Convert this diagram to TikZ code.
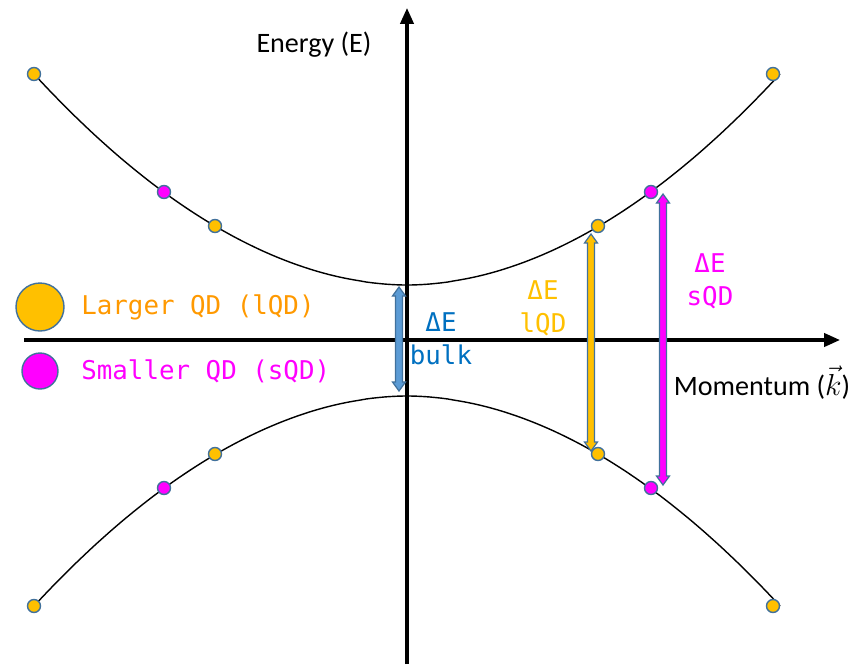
\documentclass[tikz,border=0pt]{standalone}
\usepackage{fontspec}
\setmainfont{Carlito}
\newfontfamily\monof{DejaVu Sans Mono}
\usetikzlibrary{arrows.meta}
\definecolor{qorange}{HTML}{FFC000}
\definecolor{qtext}{HTML}{FF9900}
\definecolor{qmag}{HTML}{FF00FF}
\definecolor{qblue}{HTML}{5B9BD5}
\definecolor{qbluetext}{HTML}{0070C0}
\definecolor{qedge}{HTML}{41719C}
\newcommand{\blockdarrow}[4]{% x, ytop, ybot, color
  \filldraw[blockarrow, fill=#4] (#1-3.5,#2+9) -- (#1-6.5,#2+9) -- (#1,#2) -- (#1+6.5,#2+9) -- (#1+3.5,#2+9)
    -- (#1+3.5,#3-9) -- (#1+6.5,#3-9) -- (#1,#3) -- (#1-6.5,#3-9) -- (#1-3.5,#3-9) -- cycle;}
\begin{document}
\begin{tikzpicture}[x=0.02cm,y=-0.02cm,
  axis/.style={line width=1.8pt,-{Triangle[length=9pt,width=7.5pt]}},
  band/.style={line width=0.8pt,black},
  ldot/.style={circle,draw=qedge,line width=0.8pt,fill=qorange,minimum size=13*0.02cm,inner sep=0pt},
  sdot/.style={circle,draw=qedge,line width=0.8pt,fill=qmag,minimum size=13*0.02cm,inner sep=0pt},
  blockarrow/.style={draw=qedge,line width=0.7pt,line join=miter},
  mono/.style={font=\monof\fontsize{14.7}{19}\selectfont,align=center,inner sep=0pt},
  lbl/.style={font=\fontsize{16}{19}\selectfont,inner sep=0pt}]
\useasboundingbox (0,0) rectangle (853,664);
% axes
\coordinate (ybot) at (407,664);
\coordinate (ytop) at (407,8);
\coordinate (xl) at (24,340);
\coordinate (xr) at (840,340);
\draw[axis] (ybot) -- (ytop);
\draw[axis] (xl) -- (xr);
% bands
\draw[band] plot[domain=-373:373,samples=120] ({407+\x},{285-211*(abs(\x)/373)^1.92});
\draw[band] plot[domain=-373:373,samples=120] ({407+\x},{396+210*(abs(\x)/373)^1.92});
% arrows
\blockdarrow{399}{287}{391}{qblue}
\blockdarrow{591}{234}{451}{qorange}
\blockdarrow{663}{194}{485}{qmag}
% dots upper
\node[ldot] (u1) at (34,74) {};
\node[sdot] (u2) at (164,192) {};
\node[ldot] (u3) at (215,226) {};
\node[ldot] (u4) at (598,226) {};
\node[sdot] (u5) at (651,192) {};
\node[ldot] (u6) at (773,74) {};
% dots lower
\node[ldot] (d1) at (34,606) {};
\node[sdot] (d2) at (164,488) {};
\node[ldot] (d3) at (215,454) {};
\node[ldot] (d4) at (598,454) {};
\node[sdot] (d5) at (651,488) {};
\node[ldot] (d6) at (773,606) {};
% legend
\node[circle,draw=qedge,line width=0.8pt,fill=qorange,minimum size=48*0.02cm,inner sep=0pt] (legl) at (40,307) {};
\node[circle,draw=qedge,line width=0.8pt,fill=qmag,minimum size=36*0.02cm,inner sep=0pt] (legs) at (40,371) {};
\node[mono,text=qtext,anchor=west] (tl) at (81,307) {Larger QD (lQD)};
\node[mono,text=qmag,anchor=west] (ts) at (81,371) {Smaller QD (sQD)};
% labels
\node[mono,text=qbluetext] (eb) at (441,339) {ΔE\\bulk};
\node[mono,text=qorange] (el) at (543,308) {ΔE\\lQD};
\node[mono,text=qmag] (es) at (710,281) {ΔE\\sQD};
\node[lbl] (en) at (314,45) {Energy (E)};
\node[lbl] (mo) at (762,383) {Momentum ($\vec{k}$)};
\end{tikzpicture}
\end{document}
